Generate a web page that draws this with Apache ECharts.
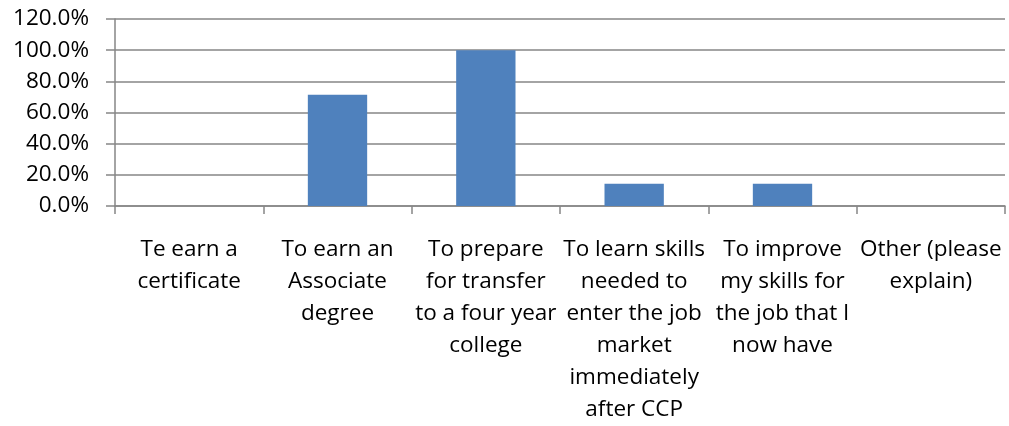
<!DOCTYPE html>
<html>
<head>
<meta charset="utf-8">
<script src="https://cdn.jsdelivr.net/npm/echarts@6/dist/echarts.min.js"></script>
<style>
  html, body { margin: 0; padding: 0; background: #ffffff; }
  #chart { width: 1009px; height: 426px; }
</style>
</head>
<body>
<div id="chart"></div>
<script>
// Reasons for enrolling (share of respondents, %)
const categories = [
  'Te earn a\ncertificate',
  'To earn an\nAssociate\ndegree',
  'To prepare\nfor transfer\nto a four year\ncollege',
  'To learn skills\nneeded to\nenter the job\nmarket\nimmediately\nafter CCP',
  'To improve\nmy skills for\nthe job that I\nnow have',
  'Other (please\nexplain)'
];
const shares = [0, 71.4, 100, 14.3, 14.3, 0];
const yTicks = { min: 0, max: 120, step: 20 };

const gray = '#868686';
const font = '"Open Sans", "Noto Sans", sans-serif';

const chart = echarts.init(document.getElementById('chart'), null, { renderer: 'canvas' });
chart.setOption({
  animation: false,
  backgroundColor: '#ffffff',
  grid: { left: 115, right: 4, top: 19, bottom: 218, containLabel: false },
  xAxis: {
    type: 'category',
    data: categories,
    boundaryGap: true,
    axisLine: { show: true, lineStyle: { color: gray, width: 1.5 } },
    axisTick: { show: true, alignWithLabel: false, interval: 0, length: 8, lineStyle: { color: gray, width: 1.5 } },
    axisLabel: {
      interval: 0,
      margin: 28,
      color: '#000000',
      fontFamily: font,
      fontSize: 22.5,
      lineHeight: 32
    },
    splitLine: { show: false }
  },
  yAxis: {
    type: 'value',
    min: yTicks.min,
    max: yTicks.max,
    interval: yTicks.step,
    axisLine: { show: true, lineStyle: { color: gray, width: 1.5 } },
    axisTick: { show: true, length: 9, lineStyle: { color: gray, width: 1.5 } },
    axisLabel: {
      margin: 26,
      color: '#000000',
      fontFamily: font,
      fontSize: 22.5,
      formatter: v => v.toFixed(1) + '%'
    },
    splitLine: { show: true, lineStyle: { color: gray, width: 1.5 } }
  },
  series: [{
    type: 'bar',
    data: shares,
    barWidth: '40%',
    itemStyle: { color: '#4F81BD' }
  }]
});
</script>
</body>
</html>
